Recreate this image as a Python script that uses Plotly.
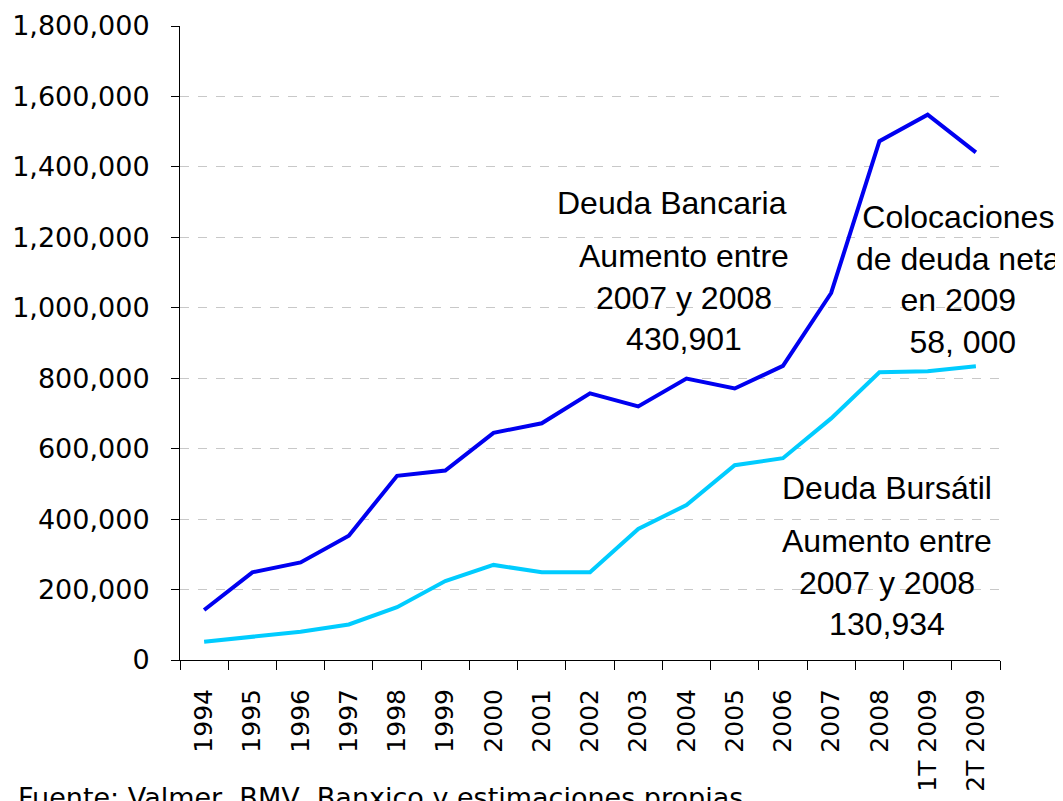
import plotly.graph_objects as go

categories = ["1994", "1995", "1996", "1997", "1998", "1999", "2000", "2001", "2002",
              "2003", "2004", "2005", "2006", "2007", "2008", "1T 2009", "2T 2009"]
deuda_bancaria = [142000, 249000, 277000, 353000, 523000, 538000, 645000, 672000, 757000,
                  720000, 799000, 771000, 835000, 1042000, 1473000, 1548000, 1441000]
deuda_bursatil = [52000, 66000, 80000, 101000, 150000, 224000, 270000, 249000, 249000,
                  372000, 440000, 553000, 573000, 686000, 817000, 820000, 834000]
y_ticks = [0, 200000, 400000, 600000, 800000, 1000000, 1200000, 1400000, 1600000, 1800000]
y_tick_labels = ["0", "200,000", "400,000", "600,000", "800,000", "1,000,000",
                 "1,200,000", "1,400,000", "1,600,000", "1,800,000"]

# page has an 8px body margin; figure coords = page coords - 8
OFF = 8
W, H = 1063 - OFF, 801 - OFF
PL, PT, PW, PH = 180, 26, 820, 634   # plot area in page pixels
L, T = PL - OFF, PT - OFF
R = W - L - PW
B = H - T - PH

def px(x):
    return (x - PL) / PW

def py(y):
    return (PT + PH - y) / PH

fig = go.Figure()
fig.add_trace(go.Scatter(x=categories, y=deuda_bancaria, mode="lines",
                         line=dict(color="#0000F0", width=4), name="Deuda Bancaria"))
fig.add_trace(go.Scatter(x=categories, y=deuda_bursatil, mode="lines",
                         line=dict(color="#00CCFF", width=4), name="Deuda Bursátil"))

afont = dict(family="Liberation Sans, Arial, sans-serif", size=32, color="black")
annots = [
    ("Deuda Bancaria", 672, 203),
    ("Aumento entre<br>2007 y 2008<br>430,901", 684, 297.5),
    ("Colocaciones<br>de deuda neta<br>en 2009<br> 58, 000", 958, 279.5),
    ("Deuda Bursátil", 887, 488),
    ("Aumento entre<br>2007 y 2008<br>130,934", 886.5, 582.5),
]
for text, x, y in annots:
    fig.add_annotation(text=text, x=px(x), y=py(y), xref="paper", yref="paper",
                       xanchor="center", yanchor="middle", showarrow=False,
                       font=afont, align="center")

fig.add_annotation(text="Fuente: Valmer, BMV, Banxico y estimaciones propias",
                   x=px(16), y=py(780), xref="paper", yref="paper",
                   xanchor="left", yanchor="top", showarrow=False,
                   font=dict(family="DejaVu Sans, Verdana, sans-serif", size=27, color="black"))

fig.update_layout(
    template="none",
    width=W, height=H,
    margin=dict(l=L, r=R, t=T, b=B, autoexpand=False),
    paper_bgcolor="white", plot_bgcolor="white",
    showlegend=False,
    font=dict(family="DejaVu Sans, Verdana, sans-serif", color="black"),
    xaxis=dict(
        type="category", range=[-0.5, len(categories) - 0.5],
        showline=True, linecolor="black", linewidth=1,
        ticks="outside", tickson="boundaries", ticklen=9, tickcolor="black",
        tickangle=-90, tickfont=dict(size=25, color="black"),
        ticklabelstandoff=18,
        showgrid=False, zeroline=False, automargin=False,
    ),
    yaxis=dict(
        range=[0, 1800000], tickvals=y_ticks, ticktext=y_tick_labels,
        showline=True, linecolor="black", linewidth=1,
        ticks="outside", ticklen=8, tickcolor="black",
        tickfont=dict(size=27, color="black"),
        ticklabelstandoff=16,
        showgrid=True, gridcolor="#C8C8C8", griddash="dash", gridwidth=1,
        zeroline=False, automargin=False,
    ),
)

fig.write_html("out.html")
